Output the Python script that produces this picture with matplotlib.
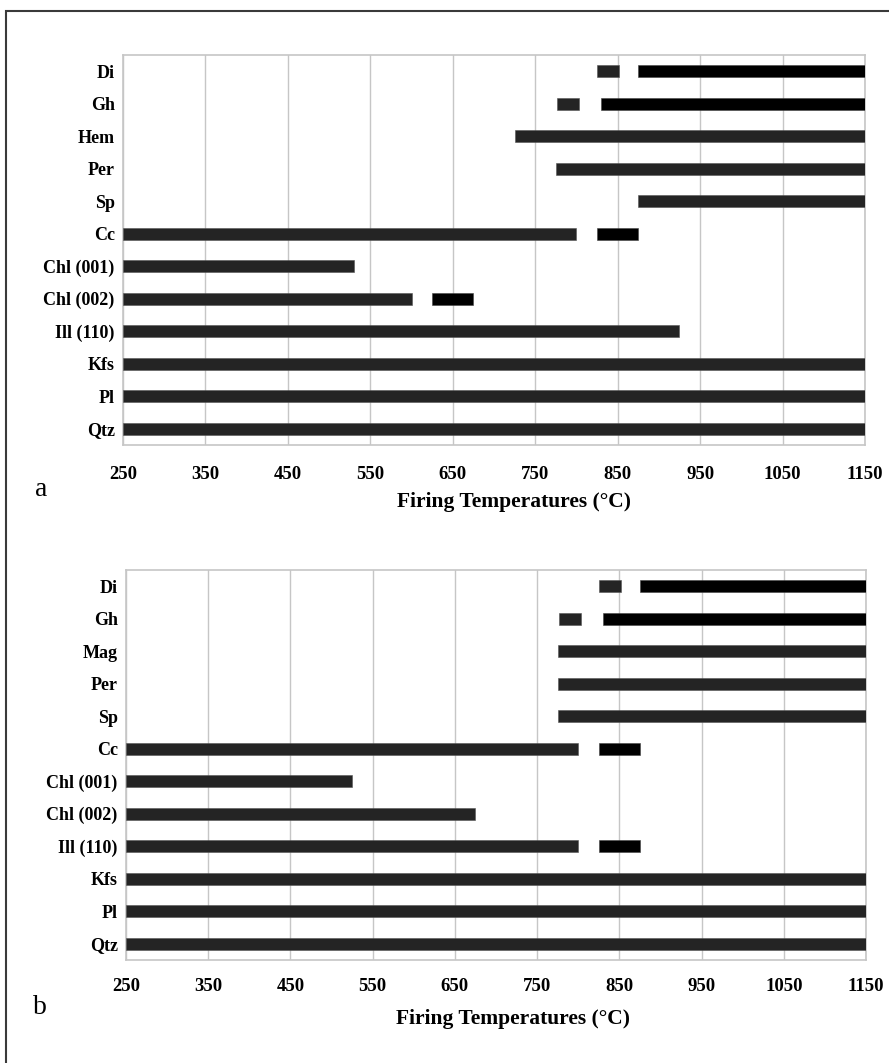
import numpy as np
import matplotlib.pyplot as plt
from matplotlib.patches import Rectangle

# panel a
minerals_a = ["Di", "Gh", "Hem", "Per", "Sp", "Cc", "Chl (001)", "Chl (002)",
              "Ill (110)", "Kfs", "Pl", "Qtz"]
first_start_a = [825, 777, 725, 775, 875, 250, 250, 250, 250, 250, 250, 250]
first_end_a = [852, 803, 1150, 1150, 1150, 800, 530, 600, 925, 1150, 1150, 1150]
second_start_a = [875, 830, None, None, None, 825, None, 625, None, None, None, None]
second_end_a = [1150, 1150, None, None, None, 875, None, 675, None, None, None, None]

# panel b
minerals_b = ["Di", "Gh", "Mag", "Per", "Sp", "Cc", "Chl (001)", "Chl (002)",
              "Ill (110)", "Kfs", "Pl", "Qtz"]
first_start_b = [825, 777, 775, 775, 775, 250, 250, 250, 250, 250, 250, 250]
first_end_b = [852, 803, 1150, 1150, 1150, 800, 525, 675, 800, 1150, 1150, 1150]
second_start_b = [875, 830, None, None, None, 825, None, None, 825, None, None, None]
second_end_b = [1150, 1150, None, None, None, 875, None, None, 875, None, None, None]

ticks = [250, 350, 450, 550, 650, 750, 850, 950, 1050, 1150]

SERIF = "Liberation Serif"
GRAY_BAR = "#242424"
GRID = "#c6c6c6"


def draw_panel(ax, minerals, s1, e1, s2, e2, pad, label_x, label_y):
    y = np.arange(len(minerals))
    ax.barh(y, np.array(e1) - np.array(s1), left=s1, height=0.38,
            color=GRAY_BAR, edgecolor="#555555", linewidth=0.4, zorder=3)
    for yi, a, b in zip(y, s2, e2):
        if a is None:
            continue
        ax.barh(yi, b - a, left=a, height=0.38, color="black",
                edgecolor="#444444", linewidth=0.4, zorder=3)
    ax.set_xlim(250, 1150)
    ax.set_ylim(len(minerals) - 0.5, -0.5)
    ax.set_xticks(ticks)
    ax.set_yticks(y)
    ax.set_yticklabels(minerals, fontfamily=SERIF, fontweight="bold", fontsize=13)
    ax.set_xticklabels([str(t) for t in ticks], fontfamily=SERIF,
                       fontweight="bold", fontsize=13.5)
    ax.tick_params(axis="both", length=0)
    ax.tick_params(axis="x", pad=pad)
    ax.tick_params(axis="y", pad=6)
    ax.grid(axis="x", color=GRID, linewidth=1.0, zorder=0)
    for sp in ax.spines.values():
        sp.set_color(GRID)
        sp.set_linewidth(1.2)
    ax.set_axisbelow(True)
    ax.set_xlabel("Firing Temperatures (°C)", fontfamily=SERIF,
                  fontweight="bold", fontsize=15.5, va="center")
    ax.xaxis.set_label_coords(label_x, label_y)


fig = plt.figure(figsize=(8.89, 10.63), dpi=100)
ax_a = fig.add_axes([123 / 889, 1 - 445 / 1063, 742 / 889, 390 / 1063])
ax_b = fig.add_axes([126 / 889, 1 - 960 / 1063, 740 / 889, 390 / 1063])

# label coords in axes units: centre x, centre y below the plot area
draw_panel(ax_a, minerals_a, first_start_a, first_end_a, second_start_a, second_end_a,
           15, (514 - 123) / 742, -(502 - 445) / 390)
draw_panel(ax_b, minerals_b, first_start_b, first_end_b, second_start_b, second_end_b,
           13, (513 - 126) / 740, -(1019 - 960) / 390)

fig.text(41 / 889, 1 - 490 / 1063, "a", fontfamily=SERIF, fontsize=20,
         ha="center", va="center")
fig.text(40 / 889, 1 - 1007 / 1063, "b", fontfamily=SERIF, fontsize=20,
         ha="center", va="center")

# outer frame, cut off at right and bottom like the source image
fig.patches.append(Rectangle((6 / 889, -0.1), 1.2, 1.1 - 11 / 1063, fill=False,
                             edgecolor="#3a3a3a", linewidth=1.5,
                             transform=fig.transFigure, figure=fig))

fig.savefig("out.png", dpi=100)
